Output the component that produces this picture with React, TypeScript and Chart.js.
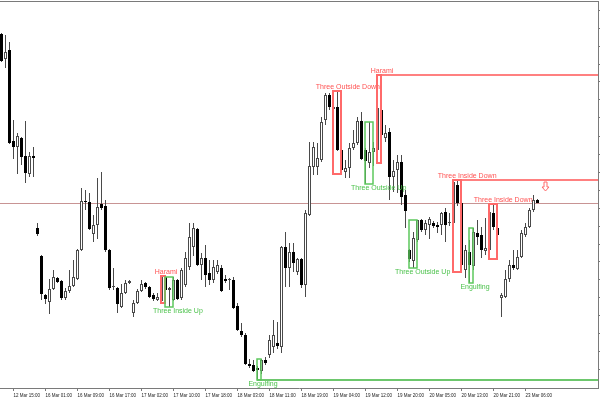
import React, { useEffect, useRef } from "react";
import { Chart, registerables } from "chart.js";

Chart.register(...registerables);

// ---- Candle data (H1 bars) ----
const opens = [
  1.0966, 1.0941, 1.0950, 1.0859, 1.0853, 1.0862, 1.0844, 1.0826, 1.0844, 1.0772,
  1.0744, 1.0705, 1.0698, 1.0711, 1.0722, 1.0719, 1.0702, 1.0709, 1.0714, 1.0721,
  1.0750, 1.0799, 1.0798, 1.0766, 1.0775, 1.0796, 1.0794, 1.0750, 1.0713, 1.0712,
  1.0693, 1.0707, 1.0717, 1.0687, 1.0697, 1.0709, 1.0717, 1.0713, 1.0705, 1.0700,
  1.0699, 1.0723, 1.0710, 1.0700, 1.0720, 1.0702, 1.0715, 1.0733, 1.0753, 1.0771,
  1.0735, 1.0742, 1.0727, 1.0720, 1.0728, 1.0732, 1.0721, 1.0720, 1.0720, 1.0694,
  1.0669, 1.0665, 1.0636, 1.0635, 1.0632, 1.0629, 1.0640, 1.0645, 1.0653, 1.0657,
  1.0653, 1.0753, 1.0732, 1.0748, 1.0728, 1.0741, 1.0715, 1.0785, 1.0833, 1.0833,
  1.0840, 1.0880, 1.0905, 1.0891, 1.0893, 1.0850, 1.0828, 1.0832, 1.0852, 1.0857,
  1.0879, 1.0850, 1.0837, 1.0848, 1.0850, 1.0890, 1.0862, 1.0868, 1.0823, 1.0830,
  1.0838, 1.0805, 1.0750, 1.0739, 1.0760, 1.0780, 1.0770, 1.0775, 1.0777, 1.0775,
  1.0775, 1.0788, 1.0777, 1.0777, 1.0815, 1.0797, 1.0730, 1.0748, 1.0734, 1.0767,
  1.0765, 1.0749, 1.0750, 1.0787, 1.0772, 1.0702, 1.0703, 1.0721, 1.0735, 1.0731,
  1.0743, 1.0765, 1.0773, 1.0790, 1.0800,
];
const highs = [
  1.0967, 1.0965, 1.0958, 1.0880, 1.0867, 1.0863, 1.0879, 1.0848, 1.0853, 1.0777,
  1.0745, 1.0706, 1.0721, 1.0730, 1.0723, 1.0720, 1.0712, 1.0730, 1.0740, 1.0751,
  1.0812, 1.0810, 1.0807, 1.0785, 1.0822, 1.0828, 1.0800, 1.0751, 1.0732, 1.0713,
  1.0716, 1.0720, 1.0720, 1.0700, 1.0711, 1.0720, 1.0718, 1.0714, 1.0707, 1.0707,
  1.0724, 1.0723, 1.0713, 1.0723, 1.0721, 1.0732, 1.0748, 1.0777, 1.0777, 1.0772,
  1.0747, 1.0755, 1.0740, 1.0740, 1.0740, 1.0735, 1.0725, 1.0722, 1.0723, 1.0697,
  1.0677, 1.0667, 1.0641, 1.0640, 1.0634, 1.0641, 1.0643, 1.0665, 1.0680, 1.0678,
  1.0754, 1.0768, 1.0757, 1.0757, 1.0742, 1.0742, 1.0790, 1.0858, 1.0858, 1.0857,
  1.0883, 1.0907, 1.0907, 1.0906, 1.0909, 1.0852, 1.0840, 1.0857, 1.0870, 1.0883,
  1.0888, 1.0852, 1.0878, 1.0858, 1.0925, 1.0910, 1.0875, 1.0872, 1.0840, 1.0845,
  1.0845, 1.0810, 1.0751, 1.0768, 1.0780, 1.0781, 1.0780, 1.0783, 1.0779, 1.0778,
  1.0788, 1.0792, 1.0787, 1.0820, 1.0820, 1.0800, 1.0755, 1.0760, 1.0772, 1.0780,
  1.0773, 1.0782, 1.0796, 1.0795, 1.0774, 1.0707, 1.0730, 1.0740, 1.0750, 1.0750,
  1.0770, 1.0777, 1.0792, 1.0805, 1.0801,
];
const lows = [
  1.0938, 1.0932, 1.0856, 1.0841, 1.0826, 1.0835, 1.0817, 1.0823, 1.0823, 1.0764,
  1.0700, 1.0696, 1.0686, 1.0710, 1.0717, 1.0700, 1.0700, 1.0707, 1.0713, 1.0720,
  1.0749, 1.0790, 1.0770, 1.0758, 1.0761, 1.0790, 1.0748, 1.0710, 1.0710, 1.0687,
  1.0692, 1.0706, 1.0716, 1.0683, 1.0696, 1.0708, 1.0711, 1.0702, 1.0699, 1.0699,
  1.0697, 1.0709, 1.0693, 1.0699, 1.0700, 1.0700, 1.0713, 1.0730, 1.0744, 1.0734,
  1.0720, 1.0713, 1.0715, 1.0717, 1.0726, 1.0708, 1.0717, 1.0710, 1.0691, 1.0669,
  1.0663, 1.0635, 1.0632, 1.0628, 1.0620, 1.0626, 1.0635, 1.0642, 1.0647, 1.0651,
  1.0647, 1.0713, 1.0713, 1.0728, 1.0725, 1.0712, 1.0703, 1.0784, 1.0825, 1.0825,
  1.0838, 1.0875, 1.0890, 1.0880, 1.0849, 1.0826, 1.0822, 1.0822, 1.0850, 1.0855,
  1.0840, 1.0816, 1.0832, 1.0834, 1.0837, 1.0860, 1.0858, 1.0800, 1.0808, 1.0807,
  1.0795, 1.0772, 1.0738, 1.0732, 1.0758, 1.0768, 1.0765, 1.0761, 1.0772, 1.0767,
  1.0765, 1.0758, 1.0774, 1.0775, 1.0794, 1.0728, 1.0722, 1.0717, 1.0730, 1.0755,
  1.0742, 1.0745, 1.0741, 1.0770, 1.0762, 1.0683, 1.0702, 1.0718, 1.0730, 1.0730,
  1.0742, 1.0763, 1.0772, 1.0788, 1.0797,
];
const closes = [
  1.0939, 1.0948, 1.0857, 1.0853, 1.0864, 1.0843, 1.0827, 1.0844, 1.0842, 1.0766,
  1.0706, 1.0701, 1.0711, 1.0723, 1.0718, 1.0702, 1.0709, 1.0714, 1.0723, 1.0750,
  1.0799, 1.0798, 1.0771, 1.0775, 1.0793, 1.0792, 1.0750, 1.0712, 1.0713, 1.0696,
  1.0707, 1.0717, 1.0719, 1.0697, 1.0709, 1.0716, 1.0713, 1.0703, 1.0701, 1.0703,
  1.0723, 1.0710, 1.0712, 1.0720, 1.0701, 1.0730, 1.0742, 1.0763, 1.0772, 1.0735,
  1.0742, 1.0725, 1.0720, 1.0733, 1.0735, 1.0709, 1.0719, 1.0720, 1.0692, 1.0670,
  1.0665, 1.0636, 1.0634, 1.0629, 1.0630, 1.0640, 1.0637, 1.0660, 1.0665, 1.0654,
  1.0753, 1.0732, 1.0748, 1.0737, 1.0741, 1.0715, 1.0787, 1.0834, 1.0853, 1.0842,
  1.0878, 1.0905, 1.0893, 1.0893, 1.0850, 1.0830, 1.0832, 1.0852, 1.0857, 1.0879,
  1.0841, 1.0839, 1.0848, 1.0852, 1.0892, 1.0865, 1.0867, 1.0823, 1.0829, 1.0838,
  1.0803, 1.0789, 1.0741, 1.0762, 1.0780, 1.0770, 1.0777, 1.0781, 1.0774, 1.0773,
  1.0787, 1.0775, 1.0778, 1.0818, 1.0797, 1.0735, 1.0750, 1.0735, 1.0768, 1.0763,
  1.0750, 1.0752, 1.0788, 1.0773, 1.0765, 1.0705, 1.0721, 1.0735, 1.0732, 1.0743,
  1.0767, 1.0773, 1.0790, 1.0800, 1.0797,
];

// ---- Axis labels ----
const timeLabels = [
  "12 Mar 15:00", "16 Mar 01:00", "16 Mar 09:00", "16 Mar 17:00", "17 Mar 02:00",
  "17 Mar 10:00", "17 Mar 18:00", "18 Mar 03:00", "18 Mar 11:00", "18 Mar 19:00",
  "19 Mar 04:00", "19 Mar 12:00", "19 Mar 20:00", "20 Mar 05:00", "20 Mar 13:00",
  "20 Mar 21:00", "23 Mar 06:00",
];
const timeLabelBars = [3, 11, 19, 27, 35, 43, 51, 59, 67, 75, 83, 91, 99, 107, 115, 123, 131];
const priceTicks = [
  1.0990, 1.0972, 1.0954, 1.0936, 1.0918, 1.0900, 1.0882, 1.0864, 1.0846, 1.0828,
  1.0810, 1.0792, 1.0774, 1.0756, 1.0738, 1.0720, 1.0702, 1.0684, 1.0666, 1.0648, 1.0630,
];

// ---- Detected candlestick patterns ----
const patternNames = [
  "Harami", "Three Inside Up", "Engulfing", "Three Outside Down", "Three Outside Up",
  "Harami", "Three Outside Up", "Three Inside Down", "Engulfing", "Three Inside Down",
];
const patternStart = [40, 41, 64, 83, 91, 94, 102, 113, 117, 122];
const patternEnd = [41, 43, 65, 85, 93, 95, 104, 115, 118, 124];
const patternBullish = [false, true, true, false, true, false, true, false, true, false];
const levelPatterns = [2, 5, 7];
const signalBar = [136];
const signalPrice = [1.0818];

const X_MIN = -0.375;
const X_MAX = 149.125;
const Y_MIN = 1.0612;
const Y_MAX = 1.0999;

const FRAME = "#7a7a7a";
const CANDLE_LINE = "#4a4a4a";
const RED = "#ff6a6a";
const RED_TEXT = "#ff5252";
const GREEN = "#5cc85c";
const GREEN_TEXT = "#4cc24c";
const GREEN_LEVEL = "#3cb43c";
const BID = "#c89494";
const LABEL_FONT = "7px 'Liberation Sans', Arial, sans-serif";

function patternExtent(p: number) {
  let hi = -Infinity;
  let lo = Infinity;
  for (let i = patternStart[p]; i <= patternEnd[p]; i++) {
    hi = Math.max(hi, highs[i]);
    lo = Math.min(lo, lows[i]);
  }
  return { hi, lo };
}

const overlayPlugin = {
  id: "patternOverlay",
  beforeDatasetsDraw(chart: any) {
    const { ctx, chartArea, scales } = chart;
    const y = Math.round(scales.y.getPixelForValue(closes[closes.length - 1])) + 0.5;
    ctx.save();
    ctx.strokeStyle = BID;
    ctx.lineWidth = 1;
    ctx.beginPath();
    ctx.moveTo(chartArea.left, y);
    ctx.lineTo(chartArea.right, y);
    ctx.stroke();
    ctx.restore();
  },
  afterDatasetsDraw(chart: any) {
    const { ctx, chartArea, scales } = chart;
    const xs = scales.x;
    const ys = scales.y;
    ctx.save();

    // top frame line
    ctx.strokeStyle = FRAME;
    ctx.lineWidth = 1;
    ctx.beginPath();
    ctx.moveTo(chartArea.left, chartArea.top + 0.5);
    ctx.lineTo(chartArea.right, chartArea.top + 0.5);
    ctx.stroke();

    // extended levels
    levelPatterns.forEach((p) => {
      const bull = patternBullish[p];
      const { hi, lo } = patternExtent(p);
      const py = ys.getPixelForValue(bull ? lo : hi);
      const sx = xs.getPixelForValue(bull ? patternStart[p] : patternEnd[p]) - 0.5;
      ctx.strokeStyle = bull ? GREEN_LEVEL : "#ff8080";
      ctx.lineWidth = bull ? 1.5 : 2;
      ctx.beginPath();
      ctx.moveTo(sx, py);
      ctx.lineTo(chartArea.right, py);
      ctx.stroke();
    });

    // labels
    ctx.font = LABEL_FONT;
    ctx.textAlign = "center";
    ctx.textBaseline = "middle";
    patternNames.forEach((name, p) => {
      const bull = patternBullish[p];
      const { hi, lo } = patternExtent(p);
      const w = ctx.measureText(name).width;
      const cx = xs.getPixelForValue(patternEnd[p]) + 0.5 + (w - 22) * 0.14;
      const cy = bull ? ys.getPixelForValue(lo) + 4.5 : ys.getPixelForValue(hi) - 3.5;
      ctx.fillStyle = bull ? GREEN_TEXT : RED_TEXT;
      ctx.fillText(name, cx, cy);
    });

    // rectangles
    patternNames.forEach((_, p) => {
      const bull = patternBullish[p];
      const { hi, lo } = patternExtent(p);
      const x1 = xs.getPixelForValue(patternStart[p]) - 0.5;
      const x2 = xs.getPixelForValue(patternEnd[p]) - 0.5;
      const y1 = ys.getPixelForValue(hi);
      const y2 = ys.getPixelForValue(lo);
      ctx.strokeStyle = bull ? GREEN : RED;
      ctx.lineWidth = bull ? 1.5 : 2;
      ctx.strokeRect(x1, y1, x2 - x1, y2 - y1);
    });

    // signal arrow (down)
    signalBar.forEach((b, k) => {
      const cx = xs.getPixelForValue(b);
      const top = ys.getPixelForValue(signalPrice[k]);
      ctx.strokeStyle = RED;
      ctx.lineWidth = 1;
      ctx.beginPath();
      ctx.moveTo(cx - 1.5, top);
      ctx.lineTo(cx + 1.5, top);
      ctx.lineTo(cx + 1.5, top + 5);
      ctx.lineTo(cx + 3.5, top + 5);
      ctx.lineTo(cx, top + 9);
      ctx.lineTo(cx - 3.5, top + 5);
      ctx.lineTo(cx - 1.5, top + 5);
      ctx.closePath();
      ctx.stroke();
    });

    ctx.restore();
  },
};

export default function App() {
  const canvasRef = useRef<HTMLCanvasElement>(null);

  useEffect(() => {
    const canvas = canvasRef.current;
    if (!canvas) return;

    const isBull = (i: number) => closes[i] >= opens[i];
    const bodies = opens.map((o, i) => ({ x: i, y: [o, closes[i]] }));
    const wicks = lows.map((l, i) => ({ x: i, y: [l, highs[i]] }));

    const chart = new Chart(canvas, {
      type: "bar",
      data: {
        datasets: [
          {
            label: "body",
            data: bodies as any,
            barThickness: 3,
            minBarLength: 1,
            grouped: false,
            borderSkipped: false,
            inflateAmount: 0,
            borderWidth: 1,
            backgroundColor: (c: any) => (isBull(c.dataIndex) ? "#ffffff" : "#000000"),
            borderColor: (c: any) => (isBull(c.dataIndex) ? CANDLE_LINE : "#000000"),
          } as any,
          {
            label: "wick",
            data: wicks as any,
            barThickness: 1,
            grouped: false,
            borderSkipped: false,
            inflateAmount: 0,
            borderWidth: 0,
            backgroundColor: CANDLE_LINE,
          } as any,
        ],
      },
      options: {
        responsive: false,
        animation: false,
        devicePixelRatio: 1,
        layout: { padding: { top: 1, left: 0, right: 0, bottom: 0 } },
        plugins: {
          legend: { display: false },
          tooltip: { enabled: false },
          title: { display: false },
        },
        scales: {
          x: {
            type: "linear",
            min: X_MIN,
            max: X_MAX,
            offset: false,
            grid: {
              display: true,
              drawOnChartArea: false,
              drawTicks: true,
              tickLength: 3,
              color: FRAME,
              offset: false,
            },
            border: { display: true, color: FRAME, width: 1 },
            afterBuildTicks: (scale: any) => {
              scale.ticks = timeLabelBars.map((v) => ({ value: v }));
            },
            ticks: {
              autoSkip: false,
              maxRotation: 0,
              minRotation: 0,
              align: "start",
              padding: 1.8,
              color: "#222222",
              font: { size: 4.5, family: "'Liberation Sans', Arial, sans-serif", lineHeight: 1.2 },
              callback: (_v: any, i: number) => timeLabels[i],
            },
          } as any,
          y: {
            type: "linear",
            position: "right",
            min: Y_MIN,
            max: Y_MAX,
            grid: {
              display: true,
              drawOnChartArea: false,
              drawTicks: true,
              tickLength: 2,
              color: FRAME,
            },
            border: { display: true, color: FRAME, width: 1 },
            afterBuildTicks: (scale: any) => {
              scale.ticks = priceTicks.map((v) => ({ value: v }));
            },
            ticks: { display: false },
          } as any,
        },
      },
      plugins: [overlayPlugin as any],
    });

    return () => chart.destroy();
  }, []);

  return (
    <div style={{ position: "fixed", left: 0, top: 0, width: 600, height: 400, background: "#ffffff" }}>
      <canvas ref={canvasRef} width={600} height={400} style={{ display: "block" }} />
    </div>
  );
}
